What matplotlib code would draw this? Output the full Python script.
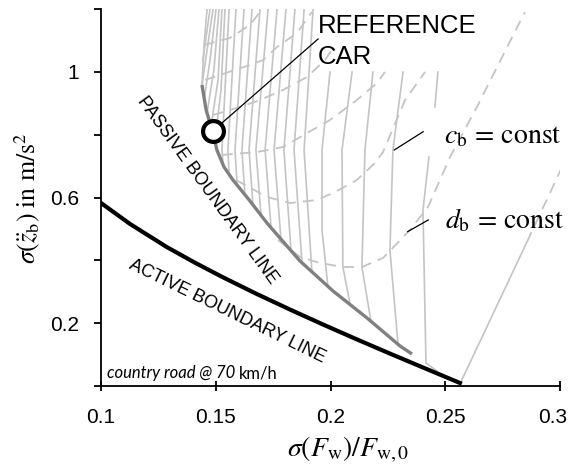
import matplotlib
matplotlib.use('Agg')
import matplotlib.pyplot as plt
from matplotlib.transforms import ScaledTranslation

plt.rcParams['font.family'] = ['Liberation Sans', 'DejaVu Sans']
plt.rcParams['mathtext.fontset'] = 'stix'

# boundary lines
active_x = [0.1000, 0.1126, 0.1286, 0.1410, 0.1532, 0.1675, 0.1824, 0.1967, 0.2114, 0.2259, 0.2404, 0.2564]
active_y = [0.5828, 0.5162, 0.4427, 0.3924, 0.3459, 0.2943, 0.2433, 0.1959, 0.1487, 0.1032, 0.0586, 0.0096]

passive_x = [0.1440, 0.1458, 0.1488, 0.1505, 0.1536, 0.1575, 0.1649, 0.1723, 0.1867, 0.2011, 0.2159, 0.2303, 0.2355]
passive_y = [0.9586, 0.8790, 0.8057, 0.7516, 0.6974, 0.6560, 0.5892, 0.5191, 0.3981, 0.3025, 0.2166, 0.1274, 0.1019]

ref_car_x = 0.1488
ref_car_y = 0.812

# c_b = const (solid grey)
cb_x = [
    [0.1462, 0.1449, 0.1440],
    [0.1475, 0.1444],
    [0.1488, 0.1440],
    [0.1501, 0.1475, 0.1449],
    [0.1514, 0.1492, 0.1462],
    [0.1527, 0.1510, 0.1479],
    [0.1540, 0.1523, 0.1497],
    [0.1558, 0.1527, 0.1532],
    [0.1588, 0.1553, 0.1558],
    [0.1623, 0.1584, 0.1593],
    [0.1658, 0.1614, 0.1627],
    [0.1693, 0.1645, 0.1662],
    [0.1728, 0.1675, 0.1697],
    [0.1767, 0.1715, 0.1741],
    [0.1806, 0.1754, 0.1784],
    [0.1845, 0.1797, 0.1828],
    [0.1885, 0.1841, 0.1876],
    [0.1924, 0.1885, 0.1919],
    [0.1998, 0.1963, 0.1963, 0.1989],
    [0.2094, 0.2050, 0.2054, 0.2085],
    [0.2185, 0.2150, 0.2137, 0.2176],
    [0.2316, 0.2272, 0.2259, 0.2294],
    [0.2468, 0.2455],
    [0.2429, 0.2403, 0.2416, 0.2464],
    [0.2564, 0.2856],
]
cb_y = [
    [1.2000, 1.0860, 0.9586],
    [1.2000, 1.0382],
    [1.2000, 0.9586],
    [1.2000, 1.0382, 0.9108],
    [1.2000, 1.0064, 0.8694],
    [1.2000, 0.9745, 0.8248],
    [1.2000, 0.9427, 0.7834],
    [1.2000, 0.7516, 0.7070],
    [1.2000, 0.7516, 0.6752],
    [1.2000, 0.7516, 0.6401],
    [1.2000, 0.7516, 0.6083],
    [1.2000, 0.7516, 0.5764],
    [1.2000, 0.7516, 0.5446],
    [1.2000, 0.7516, 0.5032],
    [1.2000, 0.7516, 0.4682],
    [1.2000, 0.7516, 0.4299],
    [1.2000, 0.7516, 0.3917],
    [1.2000, 0.7516, 0.3631],
    [1.0000, 0.7516, 0.4968, 0.3153],
    [1.0000, 0.7516, 0.3790, 0.2611],
    [1.0000, 0.7516, 0.3790, 0.2070],
    [1.0000, 0.7516, 0.4331, 0.1338],
    [1.0000, 0.8885],
    [0.7293, 0.5605, 0.0732, 0.0478],
    [0.0064, 0.4586],
]

# d_b = const (dashed grey)
db_x = [
    [0.1771, 0.1867, 0.1954, 0.2054, 0.2137, 0.2229, 0.2346, 0.2425, 0.2521, 0.2638, 0.2847],
    [0.1588, 0.1723, 0.1824, 0.1941, 0.2020, 0.2115, 0.2194, 0.2229, 0.2325, 0.2412],
    [0.1527, 0.1680, 0.1793, 0.1898, 0.1998, 0.2115, 0.2203, 0.2237],
    [0.1488, 0.1606, 0.1693, 0.1793, 0.1898, 0.1976, 0.2020],
    [0.1453, 0.1649, 0.1706, 0.1767, 0.1854, 0.1919],
    [0.1449, 0.1562, 0.1649, 0.1702],
    [0.2856, 0.3044],
]
db_y = [
    [0.4650, 0.4108, 0.3917, 0.3790, 0.3790, 0.4076, 0.4968, 0.5701, 0.7293, 0.8885, 1.1911],
    [0.6560, 0.6019, 0.5828, 0.5924, 0.6178, 0.6560, 0.7102, 0.7452, 0.9108, 1.0000],
    [0.7357, 0.7452, 0.7611, 0.8057, 0.8471, 0.9108, 0.9650, 1.0000],
    [0.8631, 0.8885, 0.9108, 0.9427, 0.9841, 1.0382, 1.0860],
    [0.9745, 1.0223, 1.0382, 1.0796, 1.1242, 1.1911],
    [1.0860, 1.1083, 1.1497, 1.2000],
    [0.4586, 0.7516],
]

x_ticks = [0.1, 0.15, 0.2, 0.25, 0.3]
x_tick_labels = ['0.1', '0.15', '0.2', '0.25', '0.3']
y_ticks = [0, 0.2, 0.4, 0.6, 0.8, 1.0, 1.2]
y_tick_labels = ['', '0.2', '', '0.6', '', '1', '']

grid_col = '#c4c4c4'

fig = plt.figure(figsize=(5.72, 4.66), dpi=100)
ax = fig.add_axes([0.1766, 0.1717, 0.8024, 0.8086])

for xs, ys in zip(cb_x, cb_y):
    ax.plot(xs, ys, color=grid_col, lw=1.2, zorder=1)
for xs, ys in zip(db_x, db_y):
    ax.plot(xs, ys, color=grid_col, lw=1.3, dashes=(6, 4), zorder=1)

ax.plot(passive_x, passive_y, color='#808080', lw=2.4, solid_capstyle='butt', zorder=3)
ax.plot(active_x, active_y, color='black', lw=3.0, zorder=3)
ax.plot(ref_car_x, ref_car_y, 'o', ms=15, mfc='white', mec='black', mew=3, zorder=5)

# annotations
ax.plot([0.1527, 0.1946], [0.8376, 1.1051], color='black', lw=0.9, zorder=4)
ax.text(0.1945, 1.186, 'REFERENCE\nCAR', fontsize=18.5, ha='left', va='top', linespacing=1.4)

ax.plot([0.2404, 0.2278], [0.8099, 0.7516], color='black', lw=0.9)
ax.text(0.2495, 0.7962, r'$c_{\mathrm{b}}\,=\,\mathrm{const}$', fontsize=20, ha='left', va='center')
ax.plot([0.2426, 0.2336], [0.5287, 0.4914], color='black', lw=0.9)
ax.text(0.2500, 0.5255, r'$d_{\mathrm{b}}\,=\,\mathrm{const}$', fontsize=20, ha='left', va='center')

ax.text(0.1462, 0.6242, 'PASSIVE BOUNDARY LINE', fontsize=13, rotation=-54,
        rotation_mode='anchor', ha='center', va='center')
ax.text(0.1551, 0.2366, 'ACTIVE BOUNDARY LINE', fontsize=13, rotation=-26,
        rotation_mode='anchor', ha='center', va='center')

t1 = ax.text(0.1025, 0.040, 'country road @ 70 ', fontsize=12, style='italic',
             family='Lato', ha='left', va='center')
ax.annotate('km/h', xy=(1, 0.5), xycoords=t1, fontsize=12, family='Lato',
            ha='left', va='center')

ax.set_xlim(0.1, 0.3)
ax.set_ylim(0, 1.2)
ax.set_xticks(x_ticks, x_tick_labels)
ax.set_yticks(y_ticks, y_tick_labels)
ax.tick_params(axis='x', direction='inout', length=7, width=1.3, labelsize=15, pad=12)
ax.tick_params(axis='y', direction='out', length=5, width=1.3, labelsize=15, pad=11)
for s in ['top', 'right']:
    ax.spines[s].set_visible(False)
for s in ['left', 'bottom']:
    ax.spines[s].set_linewidth(1.3)

# last x tick label sits at the figure edge; nudge it inside
last = ax.get_xticklabels()[-1]
last.set_transform(last.get_transform() + ScaledTranslation(-5 / 72, 0, fig.dpi_scale_trans))

fig.text(0.609, 0.034, r'$\sigma(F_{\mathrm{w}})/F_{\mathrm{w,0}}$', fontsize=20,
         ha='center', va='center')
fig.text(0.047, 0.575, r'$\sigma(\ddot{z}_{\mathrm{b}})\ \mathrm{in\ m/s^2}$', fontsize=18.5,
         ha='center', va='center', rotation=90)

fig.savefig('out.png', dpi=100)
